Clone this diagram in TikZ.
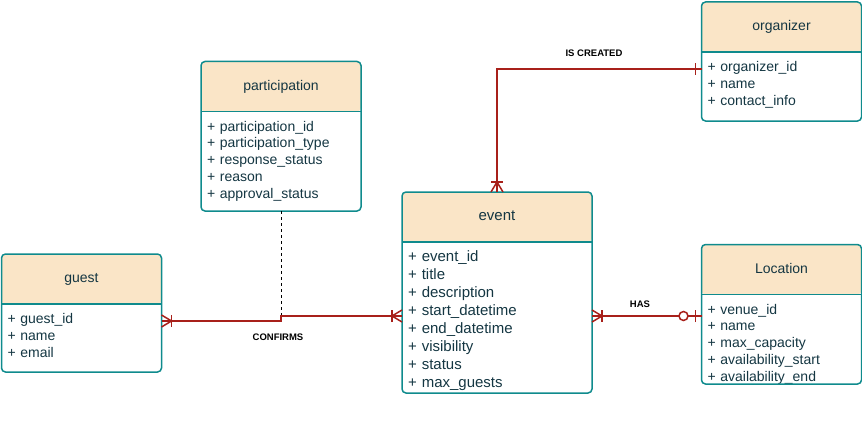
\documentclass[tikz,border=0pt]{standalone}
\usepackage{fontspec}
\setmainfont{Liberation Sans}

\definecolor{hdrfill}{HTML}{FAE5C7}
\definecolor{boxline}{HTML}{0F8B8D}
\definecolor{relred}{HTML}{A8201A}
\definecolor{ink}{HTML}{143642}

\begin{document}
\begin{tikzpicture}
  [
    x=1pt, y=-1pt,
    head/.style={
      fill=hdrfill,
      rounded corners=4pt,
      minimum width=160pt,
      minimum height=50pt,
      inner sep=0pt, outer sep=0pt,
      text=ink,
      font=\fontsize{14}{16}\selectfont,
      text height=10pt, text depth=3pt
    },
    attrs/.style={
      anchor=north,
      text width=148pt,
      inner xsep=6pt, inner ysep=0pt, outer sep=0pt,
      align=left,
      text=ink,
      font=\fontsize{14}{16.75}\selectfont,
      text height=19.5pt
    },
    outline/.style={
      draw=boxline,
      line width=1.5pt,
      rounded corners=4pt
    },
    rel/.style={
      draw=relred,
      line width=1.5pt
    },
    link/.style={
      draw=black,
      line width=0.75pt,
      dash pattern=on 3pt off 3pt
    },
    lbl/.style={
      font=\bfseries\fontsize{9.5}{11}\selectfont,
      inner sep=0pt
    },
    many/.pic={
      \draw[rel] (0,-6) -- (10,0) -- (0,6);
      \draw[rel] (10,-6) -- (10,6);
    },
    one/.pic={
      \draw[rel] (6,-6) -- (6,6);
    },
    zeroone/.pic={
      \draw[rel] (6,-6) -- (6,6);
      \draw[rel, fill=white] (18,0) circle (4.5);
    }
  ]

  \useasboundingbox (0,0) rectangle (862,428);

  % entities
  \node[head] (participation) at (281,86.5) {participation};
  \node[attrs, text depth=80pt] (participation-attr) at (participation.south)
    {+ participation\_id\\+ participation\_type\\+ response\_status\\+ reason\\+ approval\_status};

  \node[head] (guest) at (81.5,279) {guest};
  \node[attrs, text depth=48.5pt] (guest-attr) at (guest.south)
    {+ guest\_id\\+ name\\+ email};

  \node[head, minimum width=190pt, font=\fontsize{15}{18}\selectfont] (event) at (497,217) {event};
  \node[attrs, text width=178pt, font=\fontsize{15}{18}\selectfont,
        text height=19pt, text depth=132pt] (event-attr) at (event.south)
    {+ event\_id\\+ title\\+ description\\+ start\_datetime\\+ end\_datetime\\+ visibility\\+ status\\+ max\_guests};

  \node[head] (organizer) at (781.5,27) {organizer};
  \node[attrs, text depth=49.5pt] (organizer-attr) at (organizer.south)
    {+ organizer\_id\\+ name\\+ contact\_info};

  \node[head] (location) at (781.5,269.5) {Location};
  \node[attrs, text depth=70pt] (location-attr) at (location.south)
    {+ venue\_id\\+ name\\+ max\_capacity\\+ availability\_start\\+ availability\_end};

  \foreach \e in {participation,guest,event,organizer,location} {
    \draw[outline] (\e.north west) rectangle (\e-attr.south east);
    \draw[draw=boxline, line width=1.5pt] (\e.south west) -- (\e.south east);
  }

  % relations
  \coordinate (created-o) at ([yshift=-17pt]organizer-attr.north west);
  \draw[rel] (event.north) |- (created-o);
  \path (event.north) pic[rotate=90] {many};
  \path (created-o) pic[rotate=180] {one};
  \node[lbl] (created) at (594,53) {IS CREATED};

  \coordinate (conf-g) at ([yshift=-17pt]guest-attr.north east);
  \coordinate (conf-e) at ([yshift=-74pt]event-attr.north west);
  \draw[link] (participation-attr.south) -- (conf-e -| participation-attr.south);
  \draw[rel] (conf-g) -- (conf-g -| participation-attr.south)
    -- (conf-e -| participation-attr.south) -- (conf-e);
  \path (conf-g) pic {many};
  \path (conf-e) pic[rotate=180] {many};
  \node[lbl] (confirms) at (278,337) {CONFIRMS};

  \coordinate (has-e) at ([yshift=-74pt]event-attr.north east);
  \coordinate (has-l) at (has-e -| location-attr.west);
  \draw[rel] (has-e) -- (has-l);
  \path (has-e) pic {many};
  \path (has-l) pic[rotate=180] {zeroone};
  \node[lbl] (has) at (640,304) {HAS};

\end{tikzpicture}
\end{document}
